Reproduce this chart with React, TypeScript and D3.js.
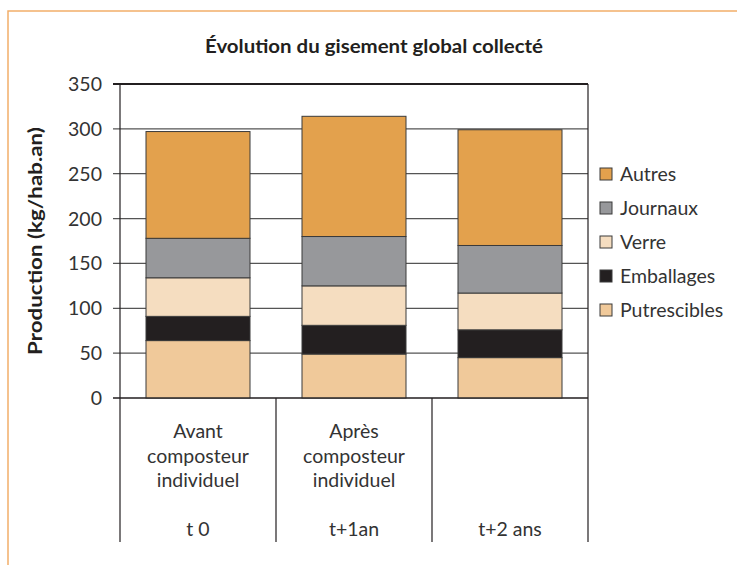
import React from "react";
import * as d3 from "d3";

const categories = ["t0", "t1", "t2"];
const categoryLines = [
  ["Avant", "composteur", "individuel"],
  ["Après", "composteur", "individuel"],
  [],
];
const periodLabels = ["t 0", "t+1an", "t+2 ans"];

const seriesNames = ["Putrescibles", "Emballages", "Verre", "Journaux", "Autres"];
const putrescibles = [64, 49, 45];
const emballages = [27, 32, 31];
const verre = [43, 44, 41];
const journaux = [44, 55, 53];
const autres = [119, 134, 129];

const colors: Record<string, string> = {
  Putrescibles: "#F0C99A",
  Emballages: "#231F20",
  Verre: "#F5DDC0",
  Journaux: "#97989B",
  Autres: "#E3A14D",
};

const yTicks = [0, 50, 100, 150, 200, 250, 300, 350];

const width = 737;
const height = 565;
const left = 120;
const right = 588;
const top = 84;
const bottom = 398;
const axisBottom = 542;
const font = "Lato, 'Open Sans', sans-serif";
const fs = 19.5;

export default function App() {
  const rows = categories.map((c, i) => ({
    cat: c,
    Putrescibles: putrescibles[i],
    Emballages: emballages[i],
    Verre: verre[i],
    Journaux: journaux[i],
    Autres: autres[i],
  }));
  const stacked = d3.stack<any>().keys(seriesNames)(rows);

  const x = d3.scaleBand().domain(categories).range([left, right]).paddingInner(0).paddingOuter(0);
  const y = d3.scaleLinear().domain([0, 350]).range([bottom, top]);
  const pad = 26;

  const legendItems = [...seriesNames].reverse();

  return (
    <svg
      width={width}
      height={height}
      style={{ position: "absolute", left: 0, top: 0, background: "#fff" }}
    >
      <path d={`M8,${height} V11 H${width}`} fill="none" stroke="#F2AE6A" strokeWidth={1.5} />
      <text
        x={374}
        y={53}
        textAnchor="middle"
        fontFamily={font}
        fontWeight="bold"
        fontSize={19}
        textLength={338}
        lengthAdjust="spacingAndGlyphs"
        fill="#231F20"
      >
        Évolution du gisement global collecté
      </text>

      {yTicks.map((t) => (
        <g key={t}>
          <line
            x1={left - 7}
            x2={right}
            y1={y(t)}
            y2={y(t)}
            stroke={t === 350 || t === 0 ? "#231F20" : "#555"}
            strokeWidth={t === 350 ? 2 : 1.2}
          />
          <text
            x={102}
            y={y(t)}
            dy="0.36em"
            textAnchor="end"
            fontFamily={font}
            fontSize={fs}
            fill="#333"
          >
            {t}
          </text>
        </g>
      ))}

      {stacked.map((s) =>
        s.map((d, i) => (
          <rect
            key={s.key + i}
            x={x(categories[i])! + pad}
            width={x.bandwidth() - 2 * pad}
            y={y(d[1])}
            height={y(d[0]) - y(d[1])}
            fill={colors[s.key]}
            stroke="#3a3a3a"
            strokeWidth={1}
          />
        ))
      )}

      {[...categories.map((c) => x(c)!), right].map((xx, i) => (
        <line
          key={i}
          x1={xx}
          x2={xx}
          y1={i === 0 || i === categories.length ? top : bottom}
          y2={axisBottom}
          stroke="#231F20"
          strokeWidth={1.2}
        />
      ))}
      <line x1={left - 7} x2={right} y1={bottom} y2={bottom} stroke="#231F20" strokeWidth={1.2} />

      {categories.map((c, i) => (
        <g key={c} fontFamily={font} fontSize={fs} fill="#333" textAnchor="middle">
          {categoryLines[i].map((l, j) => (
            <text key={j} x={x(c)! + x.bandwidth() / 2} y={438 + j * 24.5}>
              {l}
            </text>
          ))}
          <text x={x(c)! + x.bandwidth() / 2} y={536}>
            {periodLabels[i]}
          </text>
        </g>
      ))}

      <text
        transform={`translate(42,${(top + bottom) / 2}) rotate(-90)`}
        textAnchor="middle"
        fontFamily={font}
        fontWeight="bold"
        fontSize={19}
        textLength={228}
        lengthAdjust="spacingAndGlyphs"
        fill="#231F20"
      >
        Production (kg/hab.an)
      </text>

      {legendItems.map((k, i) => (
        <g key={k} transform={`translate(600,${174 + i * 34})`}>
          <rect x={0} y={-6} width={12} height={12} fill={colors[k]} stroke="#3a3a3a" strokeWidth={1} />
          <text x={20} y={0} dy="0.36em" fontFamily={font} fontSize={fs} fill="#333">
            {k}
          </text>
        </g>
      ))}
    </svg>
  );
}
